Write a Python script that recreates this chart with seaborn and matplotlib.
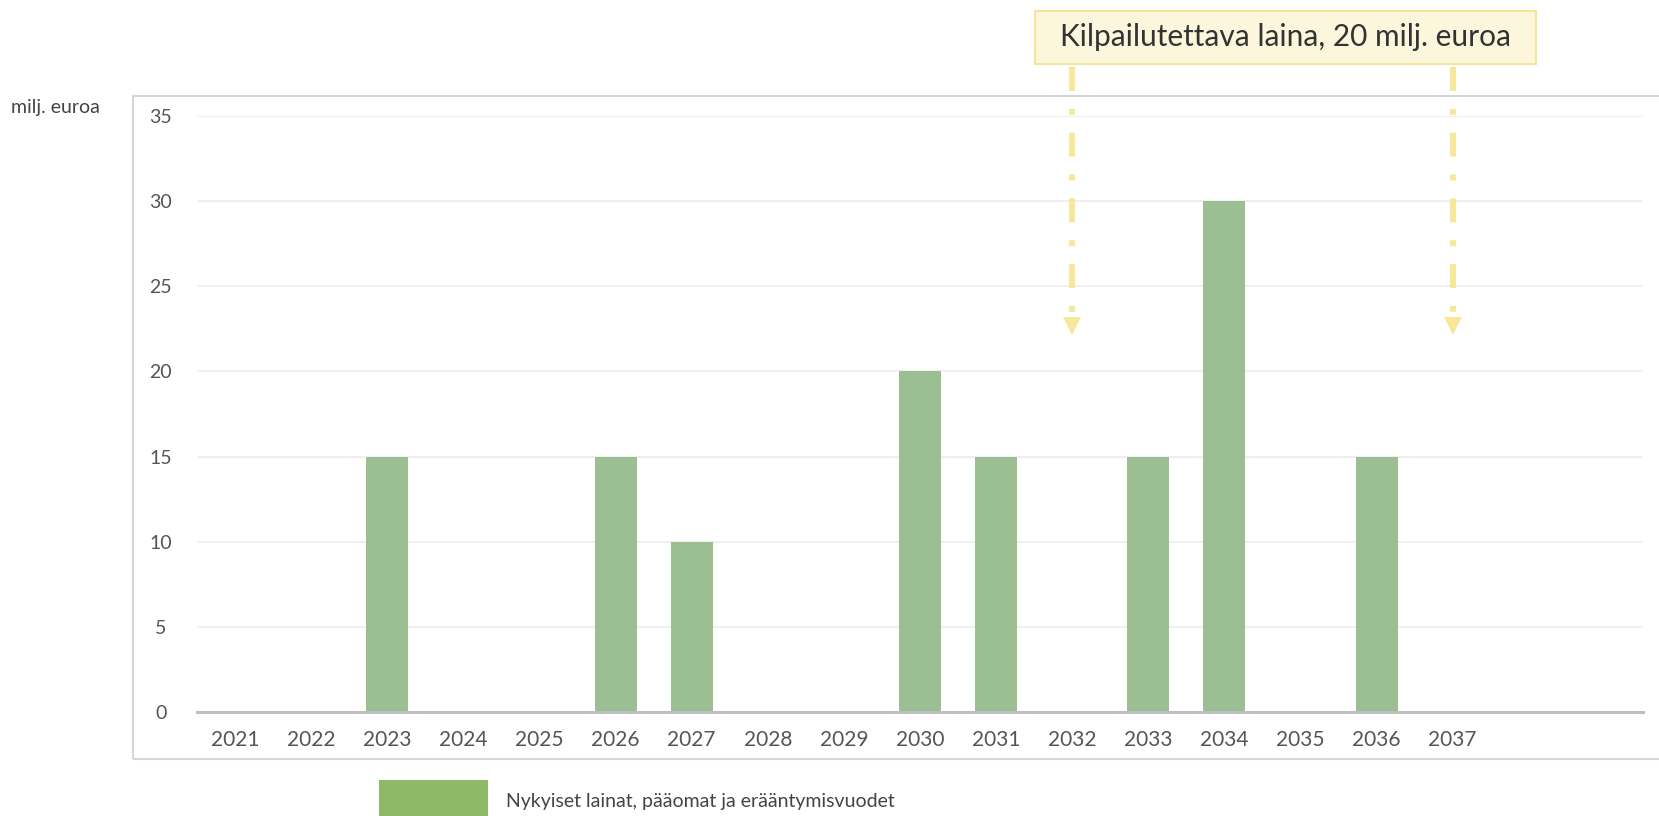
import matplotlib
matplotlib.use("Agg")
import matplotlib.pyplot as plt
import seaborn as sns
import pandas as pd
from matplotlib.patches import Rectangle

# ---- data ----
years = [str(y) for y in range(2021, 2038)]
values = [0, 0, 15, 0, 0, 15, 10, 0, 0, 20, 15, 0, 15, 30, 0, 15, 0]
y_ticks = [0, 5, 10, 15, 20, 25, 30, 35]
arrow_years = ["2032", "2037"]
annotation_text = "Kilpailutettava laina, 20 milj. euroa"
legend_label = "Nykyiset lainat, pääomat ja erääntymisvuodet"
y_unit = "milj. euroa"

sns.set_theme(style="white")
plt.rcParams['font.family'] = ['Lato', 'DejaVu Sans']

W, H = 1659, 816
fig = plt.figure(figsize=(W / 100, H / 100), dpi=100)
fig.patch.set_facecolor("white")

# outer frame
fig.add_artist(Rectangle((133 / W, 1 - 759 / H), 1.0, (759 - 96) / H,
                         transform=fig.transFigure, fill=False,
                         edgecolor="#d6d6d6", lw=1.5, zorder=0))

ax = fig.add_axes([197 / W, 1 - 712 / H, 1446 / W, 596 / H])
df = pd.DataFrame({"year": years, "value": values})
sns.barplot(data=df, x="year", y="value", color="#9bbf93", saturation=1,
            width=0.55, ax=ax, linewidth=0, zorder=2)

ax.set_xlim(-0.5, 18.5)
ax.set_ylim(0, 35)
ax.set_yticks(y_ticks)
ax.yaxis.grid(True, color="#ececec", lw=1.2)
ax.xaxis.grid(False)
ax.set_axisbelow(True)
for s in ["top", "right", "left"]:
    ax.spines[s].set_visible(False)
ax.spines["bottom"].set_color("#bfbfbf")
ax.spines["bottom"].set_linewidth(2.2)
ax.spines["bottom"].set_zorder(3)
ax.set_xlabel("")
ax.set_ylabel("")
ax.tick_params(axis="y", length=0, pad=26, labelsize=14, labelcolor="#555555")
ax.tick_params(axis="x", length=0, pad=13, labelsize=15, labelcolor="#555555")
for lab in ax.get_yticklabels():
    lab.set_horizontalalignment("center")

# arrows
arrow_color = "#f7e79a"
for yr in arrow_years:
    xi = years.index(yr)
    ax.plot([xi, xi], [37.87, 23.2], color=arrow_color, lw=4.3,
            ls=(0, (4, 3, 1, 3)), clip_on=False, dash_capstyle="butt", zorder=4)
    ax.plot([xi], [22.67], marker="v", ms=13, color=arrow_color, mew=0,
            clip_on=False, zorder=4)

# annotation box
fig.add_artist(Rectangle((1035 / W, 1 - 63.5 / H), 501 / W, 53 / H,
                         transform=fig.transFigure, facecolor="#fcf6dc",
                         edgecolor="#f5e59b", lw=1.5, zorder=5))
fig.text(1285.5 / W, 1 - 37 / H, annotation_text, ha="center", va="center",
         fontsize=21.5, color="#333333", zorder=6)

# y unit label
fig.text(11 / W, 1 - 107 / H, y_unit, ha="left", va="center",
         fontsize=14, color="#444444")

# legend
fig.add_artist(Rectangle((379 / W, 0), 109 / W, 36 / H,
                         transform=fig.transFigure, facecolor="#8db966",
                         edgecolor="none"))
fig.text(506 / W, 1 - 802 / H, legend_label, ha="left", va="center",
         fontsize=14, color="#444444")

fig.savefig("out.png", dpi=100)
